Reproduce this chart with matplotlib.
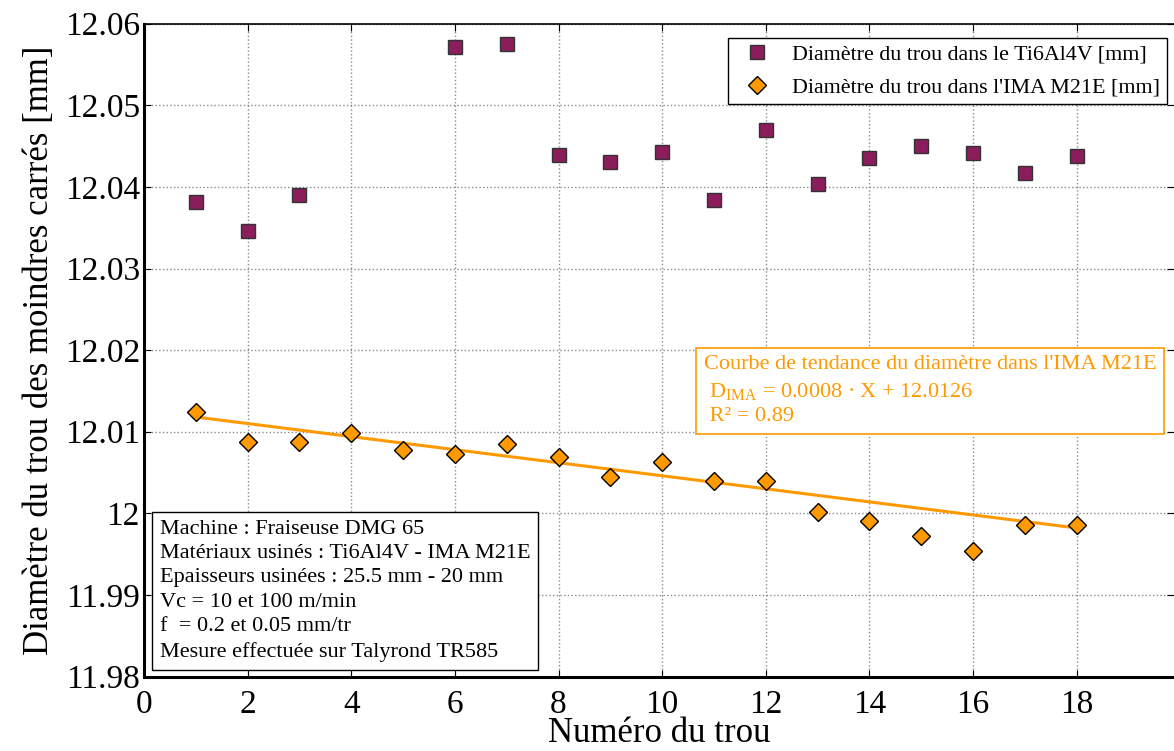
import numpy as np
import matplotlib.pyplot as plt
from matplotlib.ticker import MultipleLocator, FormatStrFormatter

plt.rcParams["font.family"] = "Liberation Serif"
plt.rcParams["mathtext.fontset"] = "custom"
plt.rcParams["mathtext.rm"] = "Liberation Serif"
plt.rcParams["mathtext.it"] = "Liberation Serif:italic"

# data
holes = np.arange(1, 19)
ti_x = [1, 2, 3, 6, 7, 8, 9, 10, 11, 12, 13, 14, 15, 16, 17, 18]
ti_y = [12.0381, 12.0346, 12.0390, 12.0572, 12.0575, 12.0439, 12.0431, 12.0443,
        12.0384, 12.0470, 12.0404, 12.0435, 12.0450, 12.0441, 12.0417, 12.0438]
d_ima = [12.0124, 12.0088, 12.0088, 12.0098, 12.0078, 12.0073, 12.0085, 12.0069, 12.0044,
         12.0063, 12.0040, 12.0039, 12.0002, 11.9990, 11.9972, 11.9954, 11.9986, 11.9986]
trend_slope = -0.0008
trend_icpt = 12.0126

purple = "#8B1D5C"
orange = "#FF9900"

fig = plt.figure(figsize=(11.74, 7.51), dpi=100)
ax = fig.add_axes([0.1227, 0.0992, 0.8773, 0.8692])

ax.plot(ti_x, ti_y, "s", color=purple, markeredgecolor="#333333", markeredgewidth=1.0,
        markersize=10, label="Diamètre du trou dans le Ti6Al4V [mm]", zorder=4)
ax.plot(holes, d_ima, "D", color=orange, markeredgecolor="black", markeredgewidth=1.0,
        markersize=9, label="Diamètre du trou dans l'IMA M21E [mm]", zorder=4)
ax.plot(holes, trend_slope * holes + trend_icpt, "-", color=orange, linewidth=2.2, zorder=3)

ax.set_xlim(0, 19.88)
ax.set_ylim(11.98, 12.06)
ax.xaxis.set_major_locator(MultipleLocator(2))
ax.yaxis.set_major_locator(MultipleLocator(0.01))
ax.yaxis.set_major_formatter(FormatStrFormatter("%g"))
ax.xaxis.set_major_formatter(FormatStrFormatter("%g"))
ax.tick_params(direction="in", length=5, top=True, right=True, labelsize=24)
ax.tick_params(axis="y", pad=3)
ax.tick_params(axis="x", pad=9)
ax.grid(True, color="#8a8a8a", linestyle=":", linewidth=1.0)
ax.set_axisbelow(True)
ax.spines["left"].set_linewidth(2.2)
ax.spines["bottom"].set_linewidth(2.2)
ax.spines["top"].set_linewidth(1.2)
ax.spines["right"].set_visible(False)

ax.set_xlabel("Numéro du trou", fontsize=25, labelpad=-2)
ax.set_ylabel("Diamètre du trou des moindres carrés [mm]", fontsize=25, labelpad=6)

leg = ax.legend(loc="upper right", bbox_to_anchor=(0.997, 0.985), fontsize=15.8,
                fancybox=False, edgecolor="black", framealpha=1, borderpad=0.3,
                handletextpad=0.6, labelspacing=0.55, borderaxespad=0.2,
                handlelength=2.0)
leg.get_frame().set_linewidth(1.0)

ax.text(0.5435, 0.492,
        "Courbe de tendance du diamètre dans l'IMA M21E\n"
        " D$_{\\mathrm{IMA}}$ = 0.0008 · X + 12.0126\n"
        " R² = 0.89",
        transform=ax.transAxes, fontsize=16, color=orange, ha="left", va="top",
        linespacing=1.4,
        bbox=dict(boxstyle="square,pad=0.35", facecolor="white", edgecolor=orange,
                  linewidth=1.2))

ax.text(0.0155, 0.2405,
        "Machine : Fraiseuse DMG 65\n"
        "Matériaux usinés : Ti6Al4V - IMA M21E\n"
        "Epaisseurs usinées : 25.5 mm - 20 mm\n"
        "Vc = 10 et 100 m/min\n"
        "f  = 0.2 et 0.05 mm/tr\n"
        "Mesure effectuée sur Talyrond TR585",
        transform=ax.transAxes, fontsize=16, color="black", ha="left", va="top",
        linespacing=1.39,
        bbox=dict(boxstyle="square,pad=0.35", facecolor="white", edgecolor="black",
                  linewidth=1.0), zorder=5)

fig.savefig("out.png", dpi=100)
